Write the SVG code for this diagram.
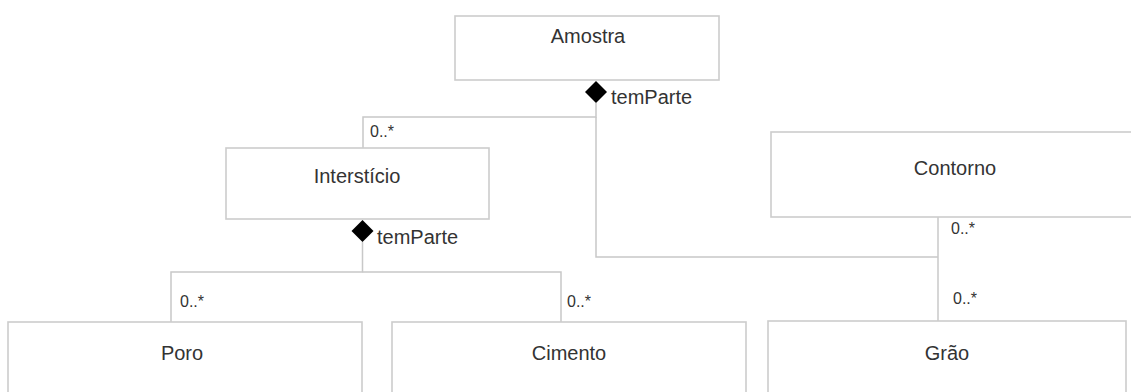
<svg xmlns="http://www.w3.org/2000/svg" width="1131" height="392" viewBox="0 0 1131 392">
<style>
.box{fill:#fff;stroke:#cccccc;stroke-width:1.6}
.name{font-family:"Liberation Sans",Arial,sans-serif;font-size:20px;fill:#333;text-anchor:middle}
.role{font-family:"Liberation Sans",Arial,sans-serif;font-size:20px;fill:#333}
.mult{font-family:"Liberation Sans",Arial,sans-serif;font-size:16px;fill:#333}
.line{fill:none;stroke:#c8c8c8;stroke-width:1.5}
.dia{fill:#000}
</style>
<rect width="1131" height="392" fill="#fff"/>
<g id="connectors">
<path class="line" d="M596,103 V117 H363 V148"/>
<path class="line" d="M596,117 V257 H938"/>
<path class="line" d="M938,217 V321"/>
<path class="line" d="M362.5,242 V272 H171 V322"/>
<path class="line" d="M362.5,272 H561 V322"/>
<polygon class="dia" points="596,81 607,92 596,103 585,92"/>
<polygon class="dia" points="362.5,220 373.5,231 362.5,242 351.5,231"/>
<text class="role" x="611" y="104">temParte</text>
<text class="role" x="377" y="244">temParte</text>
<text class="mult" x="370" y="137">0..*</text>
<text class="mult" x="180" y="307">0..*</text>
<text class="mult" x="567" y="307">0..*</text>
<text class="mult" x="951" y="234">0..*</text>
<text class="mult" x="953" y="304">0..*</text>
</g>
<g id="amostra"><rect class="box" x="455" y="16" width="264" height="64"/><text class="name" x="588" y="43">Amostra</text></g>
<g id="intersticio"><rect class="box" x="226" y="148" width="263" height="71"/><text class="name" x="357" y="183">Interstício</text></g>
<g id="contorno"><rect class="box" x="771" y="132" width="370" height="85"/><text class="name" x="955" y="175">Contorno</text></g>
<g id="poro"><rect class="box" x="8" y="322" width="354" height="80"/><text class="name" x="182" y="360">Poro</text></g>
<g id="cimento"><rect class="box" x="392" y="322" width="354" height="80"/><text class="name" x="569" y="360">Cimento</text></g>
<g id="grao"><rect class="box" x="768" y="321" width="358" height="81"/><text class="name" x="947" y="360">Grão</text></g>
</svg>
